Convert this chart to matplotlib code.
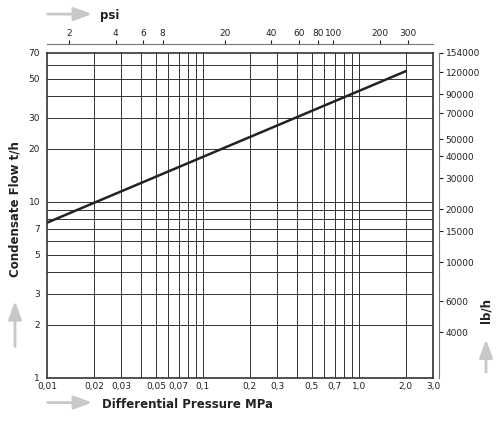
import numpy as np
import matplotlib.pyplot as plt
from matplotlib.ticker import FixedLocator, NullLocator, FixedFormatter

# data
x_line = [0.01, 2.0]          # MPa
y_line = [7.6, 55.0]          # t/h

x_ticks = [0.01, 0.02, 0.03, 0.05, 0.07, 0.1, 0.2, 0.3, 0.5, 0.7, 1.0, 2.0, 3.0]
x_labels = ['0,01', '0,02', '0,03', '0,05', '0,07', '0,1', '0,2', '0,3', '0,5', '0,7', '1,0', '2,0', '3,0']
x_grid = [0.02, 0.03, 0.04, 0.05, 0.06, 0.07, 0.08, 0.09, 0.1, 0.2, 0.3, 0.4, 0.5,
          0.6, 0.7, 0.8, 0.9, 1.0, 2.0]
y_ticks = [1, 2, 3, 5, 7, 10, 20, 30, 50, 70]
y_grid = [2, 3, 4, 5, 6, 7, 8, 9, 10, 20, 30, 40, 50, 60]
psi_ticks = [2, 4, 6, 8, 20, 40, 60, 80, 100, 200, 300]
lbh_ticks = [4000, 6000, 10000, 15000, 20000, 30000, 40000, 50000, 70000, 90000, 120000, 154000]

PSI = 145.038
LBH = 2204.6

plt.rcParams['font.family'] = ['DejaVu Sans']
fig = plt.figure(figsize=(5.0, 4.26), dpi=100)
ax = fig.add_axes([0.094, 0.113, 0.772, 0.763])
ax.set_xscale('log')
ax.set_yscale('log')
ax.set_xlim(0.01, 3.0)
ax.set_ylim(1, 70)

for gx in x_grid:
    ax.axvline(gx, color='#333333', lw=0.7)
for gy in y_grid:
    ax.axhline(gy, color='#333333', lw=0.7)

ax.plot(x_line, y_line, color='#222222', lw=1.8)

ax.xaxis.set_major_locator(FixedLocator(x_ticks))
ax.xaxis.set_major_formatter(FixedFormatter(x_labels))
ax.xaxis.set_minor_locator(NullLocator())
ax.yaxis.set_major_locator(FixedLocator(y_ticks))
ax.yaxis.set_major_formatter(FixedFormatter([str(v) for v in y_ticks]))
ax.yaxis.set_minor_locator(NullLocator())
ax.tick_params(labelsize=6.5, length=0, colors='#222222')
ax.tick_params(axis='x', pad=3)
ax.tick_params(axis='y', pad=5)
for s in ax.spines.values():
    s.set_linewidth(1.2)
    s.set_color('#333333')

# top psi axis
top = ax.secondary_xaxis('top', functions=(lambda v: v * PSI, lambda v: v / PSI))
top.spines['top'].set_position(('outward', 6))
top.xaxis.set_major_locator(FixedLocator(psi_ticks))
top.xaxis.set_major_formatter(FixedFormatter([str(v) for v in psi_ticks]))
top.xaxis.set_minor_locator(NullLocator())
top.tick_params(labelsize=6.5, length=3, pad=2, colors='#222222')
top.spines['top'].set_color('#777777')

# right lb/h axis
right = ax.secondary_yaxis('right', functions=(lambda v: v * LBH, lambda v: v / LBH))
right.spines['right'].set_position(('outward', 4))
right.yaxis.set_major_locator(FixedLocator(lbh_ticks))
right.yaxis.set_major_formatter(FixedFormatter([str(v) for v in lbh_ticks]))
right.yaxis.set_minor_locator(NullLocator())
right.tick_params(labelsize=6.5, length=3, pad=2, colors='#222222')
right.spines['right'].set_color('#777777')

# titles with grey arrows
fig.text(0.205, 0.042, 'Differential Pressure MPa', fontsize=8.5, fontweight='bold', color='#222222')
fig.text(0.2, 0.955, 'psi', fontsize=8.5, fontweight='bold', color='#222222')
fig.text(0.03, 0.51, 'Condensate Flow t/h', fontsize=8.5, fontweight='bold', rotation=90,
         ha='center', va='center', color='#222222')
fig.text(0.972, 0.27, 'lb/h', fontsize=8.5, fontweight='bold', rotation=90,
         ha='center', va='center', color='#222222')
arrow = dict(arrowstyle='-|>,head_width=0.4,head_length=1.1', color='#c8c8c8', lw=2)
ax.annotate('', xy=(0.19, 0.055), xytext=(0.09, 0.055), xycoords='figure fraction', arrowprops=arrow)
ax.annotate('', xy=(0.19, 0.967), xytext=(0.09, 0.967), xycoords='figure fraction', arrowprops=arrow)
ax.annotate('', xy=(0.03, 0.3), xytext=(0.03, 0.18), xycoords='figure fraction', arrowprops=arrow)
ax.annotate('', xy=(0.972, 0.21), xytext=(0.972, 0.12), xycoords='figure fraction', arrowprops=arrow)

fig.savefig('out.png', dpi=100)
